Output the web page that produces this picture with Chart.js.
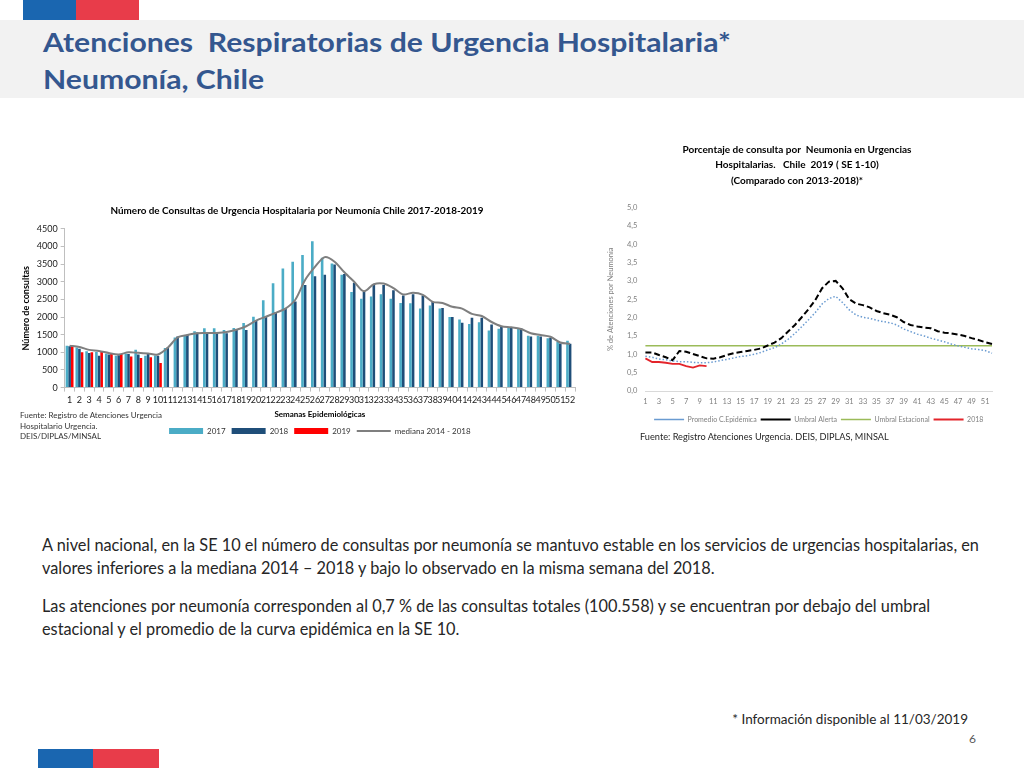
<!DOCTYPE html>
<html lang="es">
<head>
<meta charset="utf-8">
<title>Atenciones Respiratorias - Neumonía</title>
<script src="https://cdn.jsdelivr.net/npm/chart.js@4.4.0/dist/chart.umd.min.js"></script>
<style>
  body { margin: 0; width: 1024px; height: 768px; position: relative; overflow: hidden; background: #fff;
         font-family: Lato, "Open Sans", sans-serif; }
  .franja { position: absolute; }
  #cabecera { position: absolute; left: 0; top: 20px; width: 1024px; height: 78px; background: #f2f2f2; }
  #titulo { position: absolute; left: 43px; top: 24px; color: #34578f; font-weight: bold; font-size: 26px; line-height: 37px;
            white-space: nowrap; transform: scaleX(1.16); transform-origin: left top; }
  #texto { position: absolute; left: 42px; top: 533px; color: #262626; font-size: 16.3px; line-height: 23px; white-space: nowrap; }
  #texto p { margin: 0 0 15px 0; }
  #nota { position: absolute; right: 56px; top: 711px; font-size: 13.5px; color: #262626; }
  #pagina { position: absolute; left: 969px; top: 731px; font-size: 12px; color: #595959; }
  #fuente1 { position: absolute; left: 20px; top: 410px; font-size: 8px; line-height: 10.5px; color: #333; }
  #fuente2 { position: absolute; left: 640px; top: 431px; font-size: 9.2px; color: #262626; }
  .lienzo { position: absolute; }
</style>
</head>
<body>
<div class="franja" style="left:23px;top:0;width:53px;height:20px;background:#1a66b0"></div>
<div class="franja" style="left:76px;top:0;width:63px;height:20px;background:#e83c4a"></div>
<div id="cabecera"></div>
<div id="titulo">Atenciones&nbsp; Respiratorias de Urgencia Hospitalaria*<br>Neumonía, Chile</div>

<div class="lienzo" style="left:15px;top:198px;width:580px;height:247px">
  <canvas id="graficoBarras" width="580" height="247"></canvas>
</div>
<div id="fuente1">Fuente: Registro de Atenciones Urgencia<br>Hospitalario Urgencia.<br>DEIS/DIPLAS/MINSAL</div>

<div class="lienzo" style="left:598px;top:136px;width:402px;height:297px">
  <canvas id="graficoLineas" width="402" height="297"></canvas>
</div>
<div id="fuente2">Fuente: Registro Atenciones Urgencia. DEIS, DIPLAS, MINSAL</div>

<div id="texto">
  <p>A nivel nacional, en la SE 10 el número de consultas por neumonía se mantuvo estable en los servicios de urgencias hospitalarias, en<br>valores inferiores a la mediana 2014 – 2018 y bajo lo observado en la misma semana del 2018.</p>
  <p>Las atenciones por neumonía corresponden al 0,7 % de las consultas totales (100.558) y se encuentran por debajo del umbral<br>estacional y el promedio de la curva epidémica en la SE 10.</p>
</div>
<div id="nota">* Información disponible al 11/03/2019</div>
<div id="pagina">6</div>
<div class="franja" style="left:38px;top:749px;width:55px;height:19px;background:#1a66b0"></div>
<div class="franja" style="left:93px;top:749px;width:66px;height:19px;background:#e83c4a"></div>

<script>
// Semanas epidemiológicas
const semanas = [1,2,3,4,5,6,7,8,9,10,11,12,13,14,15,16,17,18,19,20,21,22,23,24,25,26,
  27,28,29,30,31,32,33,34,35,36,37,38,39,40,41,42,43,44,45,46,47,48,49,50,51,52];

// Número de consultas por neumonía
const consultas2017 = [1190,1140,1030,1010,960,900,960,1070,900,910,1120,1420,1480,1600,1680,1680,1630,1690,1830,2010,
  2480,2960,3380,3570,3760,4150,3680,3520,3200,2710,2520,2580,2650,2520,2400,2390,2240,2330,2240,2000,
  1930,1800,1850,1620,1670,1710,1680,1470,1470,1400,1300,1330];
const consultas2018 = [1170,1100,980,900,940,920,950,940,950,900,1140,1450,1500,1560,1530,1540,1540,1650,1630,1900,
  2000,2140,2260,2440,2910,3160,3200,3490,3220,2970,2710,2910,2910,2760,2610,2650,2610,2430,2260,2000,
  1840,1980,1980,1790,1750,1710,1680,1450,1450,1410,1250,1240];
const consultas2019 = [1180,1000,1000,1020,960,950,880,840,860,700];
const mediana = [1190,1150,1070,1040,980,940,1000,985,965,940,1130,1420,1490,1540,1545,1550,1575,1640,1740,1900,
  2010,2120,2240,2490,3050,3420,3700,3570,3270,3000,2730,2930,2950,2820,2640,2690,2630,2430,2400,2290,
  2240,2090,2030,1860,1740,1710,1660,1540,1490,1440,1280,1240];

// Porcentaje de consulta por neumonía
const promedioCurva = [0.95,0.92,0.87,0.85,0.82,0.80,0.80,0.78,0.77,0.77,0.79,0.83,0.86,0.90,0.94,0.96,1.00,1.05,1.12,1.18,
  1.28,1.41,1.57,1.75,1.94,2.14,2.37,2.52,2.58,2.41,2.21,2.07,2.01,1.98,1.93,1.89,1.86,1.80,1.69,1.62,
  1.55,1.50,1.44,1.39,1.34,1.28,1.23,1.19,1.15,1.13,1.10,1.03];
const umbralAlerta = [1.05,1.05,0.98,0.92,0.84,1.09,1.07,1.01,0.95,0.89,0.88,0.92,0.98,1.03,1.06,1.09,1.12,1.16,1.24,1.32,
  1.44,1.62,1.80,2.01,2.23,2.48,2.80,2.98,3.00,2.80,2.50,2.38,2.34,2.28,2.18,2.12,2.08,2.01,1.88,1.80,
  1.76,1.73,1.71,1.63,1.59,1.57,1.54,1.50,1.44,1.39,1.33,1.28];
const umbralEstacional = [1.23,1.23,1.23,1.23,1.23,1.23,1.23,1.23,1.23,1.23,1.23,1.23,1.23,1.23,1.23,1.23,1.23,1.23,1.23,1.23,
  1.23,1.23,1.23,1.23,1.23,1.23,1.23,1.23,1.23,1.23,1.23,1.23,1.23,1.23,1.23,1.23,1.23,1.23,1.23,1.23,
  1.23,1.23,1.23,1.23,1.23,1.23,1.23,1.23,1.23,1.23,1.23,1.23];
const porcentaje2019 = [0.89,0.79,0.79,0.77,0.74,0.74,0.68,0.64,0.70,0.68];

Chart.defaults.font.family = 'Lato, "Open Sans", sans-serif';
Chart.defaults.animation = false;

// leyenda en el orden de los datasets, con estilo de cada uno
function etiquetasLeyenda(estilos) {
  return function(chart) {
    const items = Chart.defaults.plugins.legend.labels.generateLabels(chart);
    items.sort((a, b) => a.datasetIndex - b.datasetIndex);
    items.forEach(it => { it.pointStyle = estilos[it.datasetIndex]; });
    return items;
  };
}

new Chart(document.getElementById('graficoBarras'), {
  type: 'bar',
  data: {
    labels: semanas,
    datasets: [
      { label: '2017', data: consultas2017, backgroundColor: '#4bacc6', order: 1 },
      { label: '2018', data: consultas2018, backgroundColor: '#1f4e79', order: 1 },
      { label: '2019', data: consultas2019, backgroundColor: '#ff0000', order: 1 },
      { type: 'line', label: 'mediana 2014 - 2018', data: mediana, borderColor: '#7f7f7f', backgroundColor: '#7f7f7f',
        borderWidth: 2, pointRadius: 0, tension: 0.3, order: 0 }
    ]
  },
  options: {
    responsive: false,
    categoryPercentage: 0.8,
    barPercentage: 1,
    layout: { padding: { left: 4, right: 20, top: 0, bottom: 0 } },
    plugins: {
      title: { display: true, text: 'Número de Consultas de Urgencia Hospitalaria por Neumonía Chile 2017-2018-2019',
               color: '#000', font: { size: 9.9, weight: 'bold' }, padding: { top: 7, bottom: 12 } },
      legend: { position: 'bottom', fullSize: false,
                labels: { usePointStyle: true, pointStyleWidth: 34, boxHeight: 6, padding: 6, color: '#333',
                          font: { size: 8 }, generateLabels: etiquetasLeyenda(['rect', 'rect', 'rect', 'line']) } },
      tooltip: { enabled: false }
    },
    scales: {
      x: {
        grid: { drawOnChartArea: false, tickLength: 4, color: '#bfbfbf' },
        border: { color: '#bfbfbf' },
        ticks: { autoSkip: false, maxRotation: 0, color: '#222', font: { size: 9 }, padding: 3 },
        title: { display: true, text: 'Semanas Epidemiológicas', color: '#000', font: { size: 8, weight: 'bold' }, padding: { top: 1, bottom: 2 } }
      },
      y: {
        min: 0, max: 4500,
        grid: { drawOnChartArea: false, tickLength: 4, color: '#bfbfbf' },
        border: { color: '#bfbfbf' },
        ticks: { stepSize: 500, color: '#222', font: { size: 9 }, callback: v => v },
        title: { display: true, text: 'Número de consultas', color: '#000', font: { size: 9, weight: 'bold' }, padding: 2 }
      }
    }
  }
});

new Chart(document.getElementById('graficoLineas'), {
  type: 'line',
  data: {
    labels: semanas,
    datasets: [
      { label: 'Promedio C.Epidémica', data: promedioCurva, borderColor: '#6a9bd1', borderDash: [1.5, 2], borderWidth: 1.5, pointRadius: 0 },
      { label: 'Umbral Alerta', data: umbralAlerta, borderColor: '#000', borderDash: [6, 3], borderWidth: 2, pointRadius: 0 },
      { label: 'Umbral Estacional', data: umbralEstacional, borderColor: '#9bbb59', borderWidth: 1.5, pointRadius: 0 },
      { label: '2018', data: porcentaje2019, borderColor: '#e3242b', borderWidth: 1.8, pointRadius: 0 }
    ]
  },
  options: {
    responsive: false,
    layout: { padding: { left: 4, right: 8, top: 0, bottom: 0 } },
    plugins: {
      title: { display: true, text: ['Porcentaje de consulta por  Neumonia en Urgencias', 'Hospitalarias.   Chile  2019 ( SE 1-10)', '(Comparado con 2013-2018)*'],
               color: '#000', font: { size: 10, weight: 'bold', lineHeight: 1.55 }, padding: { top: 6, bottom: 19 } },
      legend: { position: 'bottom', fullSize: false,
                labels: { usePointStyle: true, pointStyleWidth: 30, boxHeight: 6, padding: 4, color: '#7f7f7f',
                          font: { size: 7 }, generateLabels: etiquetasLeyenda(['line', 'line', 'line', 'line']) } },
      tooltip: { enabled: false }
    },
    scales: {
      x: {
        offset: false,
        grid: { display: false, drawTicks: false },
        border: { color: '#d9d9d9' },
        ticks: { autoSkip: false, maxRotation: 0, color: '#7f7f7f', font: { size: 7.5 }, padding: 6,
                 callback: function(v, i) { return i % 2 === 0 ? this.getLabelForValue(v) : ''; } }
      },
      y: {
        min: 0, max: 5,
        grid: { display: false, drawTicks: false },
        border: { display: false },
        ticks: { stepSize: 0.5, color: '#7f7f7f', font: { size: 7.5 }, padding: 8, callback: v => v.toFixed(1).replace('.', ',') },
        title: { display: true, text: '% de Atenciones por Neumonia', color: '#7f7f7f', font: { size: 7.5 } }
      }
    }
  }
});
</script>
</body>
</html>
